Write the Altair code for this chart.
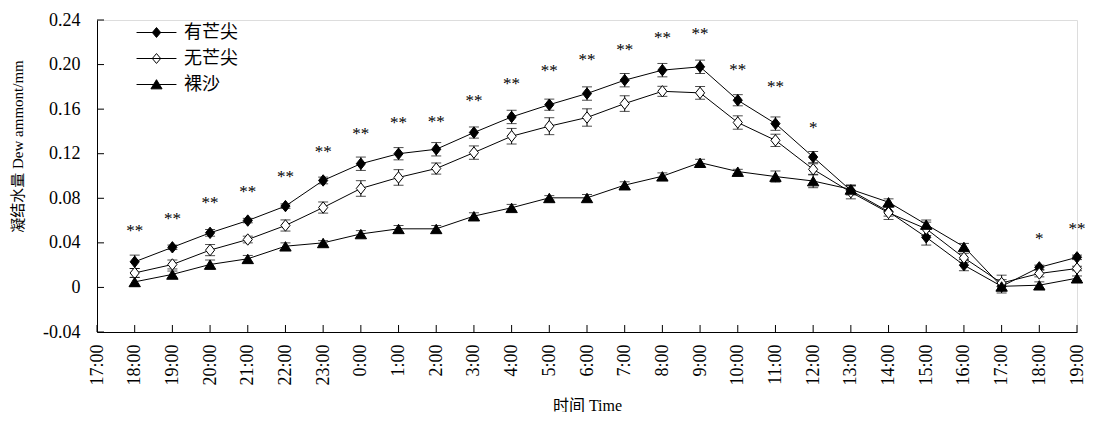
import altair as alt
import pandas as pd

times = ["17:00", "18:00", "19:00", "20:00", "21:00", "22:00", "23:00",
         "0:00", "1:00", "2:00", "3:00", "4:00", "5:00", "6:00", "7:00", "8:00",
         "9:00", "10:00", "11:00", "12:00", "13:00", "14:00", "15:00", "16:00",
         "17:00", "18:00", "19:00"]

series_names = ["有芒尖", "无芒尖", "裸沙"]

# values from 18:00 (day 1) to 19:00 (day 2)
awned = [0.023, 0.036, 0.049, 0.060, 0.073, 0.096, 0.111, 0.120, 0.124, 0.139,
         0.153, 0.164, 0.174, 0.186, 0.195, 0.198, 0.168, 0.147, 0.117, 0.087,
         0.068, 0.045, 0.020, 0.001, 0.018, 0.027]
awned_err = [0.006, 0.002, 0.003, 0.002, 0.002, 0.003, 0.006, 0.0055, 0.006, 0.005,
             0.006, 0.005, 0.006, 0.006, 0.006, 0.006, 0.005, 0.006, 0.005, 0.004,
             0.004, 0.007, 0.005, 0.006, 0.002, 0.002]
awnless = [0.013, 0.0206, 0.0335, 0.043, 0.0556, 0.0717, 0.0888, 0.0987, 0.1067, 0.121,
           0.1357, 0.1447, 0.1525, 0.165, 0.176, 0.1746, 0.148, 0.132, 0.106, 0.0855,
           0.067, 0.0526, 0.0266, 0.004, 0.0125, 0.017]
awnless_err = [0.004, 0.004, 0.005, 0.003, 0.005, 0.005, 0.007, 0.007, 0.005, 0.006,
               0.007, 0.0076, 0.0078, 0.007, 0.0045, 0.0057, 0.006, 0.0055, 0.005, 0.006,
               0.006, 0.006, 0.004, 0.007, 0.003, 0.002]
bare = [0.005, 0.0117, 0.0206, 0.0257, 0.037, 0.040, 0.048, 0.0526, 0.0526, 0.064,
        0.0715, 0.0804, 0.0804, 0.0918, 0.0998, 0.112, 0.104, 0.0995, 0.0955, 0.088,
        0.0765, 0.0565, 0.0365, 0.001, 0.002, 0.0083]
bare_err = [0.004, 0.003, 0.004, 0.003, 0.003, 0.002, 0.003, 0.003, 0.003, 0.003,
            0.003, 0.002, 0.003, 0.003, 0.003, 0.003, 0.002, 0.005, 0.006, 0.004,
            0.003, 0.004, 0.003, 0.003, 0.003, 0.002]

sig_marks = ["**"] * 18 + ["*"] + [""] * 5 + ["*", "**"]
sig_y = [0.054, 0.065, 0.079, 0.089, 0.103, 0.125, 0.141, 0.151, 0.152, 0.171,
         0.1865, 0.198, 0.208, 0.217, 0.227, 0.231, 0.1985, 0.1836, 0.147,
         None, None, None, None, None, 0.0475, 0.056]

y_ticks = [-0.04, 0.0, 0.04, 0.08, 0.12, 0.16, 0.20, 0.24]

# ---- tables ----
rows = []
for name, vals, errs in zip(series_names, [awned, awnless, bare],
                            [awned_err, awnless_err, bare_err]):
    for k, (v, e) in enumerate(zip(vals, errs)):
        rows.append({"series": name, "x": k + 1, "y": v, "lo": v - e, "hi": v + e})
df = pd.DataFrame(rows)

sig_df = pd.DataFrame([{"x": k + 1, "y": yy, "t": s}
                       for k, (s, yy) in enumerate(zip(sig_marks, sig_y)) if s])
xt_df = pd.DataFrame({"x": list(range(len(times)))})
yt_df = pd.DataFrame({"y": y_ticks})

W, H = 980, 312
SERIF = "Liberation Serif, Noto Sans CJK SC"

label_arr = "[" + ",".join("'%s'" % t for t in times) + "]"

xscale = alt.Scale(domain=[0, len(times) - 1], nice=False, zero=False)
yscale = alt.Scale(domain=[-0.04, 0.24], nice=False, zero=False)

x_axis = alt.Axis(values=list(range(len(times))), labelExpr=label_arr + "[datum.value]",
                  labelAngle=270, ticks=False, grid=False, domainColor="black",
                  labelFont=SERIF, labelFontSize=18, labelColor="black", labelPadding=12,
                  title="时间 Time", titleFont=SERIF, titleFontSize=16,
                  titleFontWeight="normal", titleColor="black", titleY=73,
                  titleBaseline="middle", labelOverlap=False, labelBound=False)
y_axis = alt.Axis(values=y_ticks,
                  labelExpr="datum.value == 0 ? '0' : replace(format(datum.value, '.2f'), '\u2212', '-')",
                  ticks=False, grid=False, domainColor="black",
                  labelFont=SERIF, labelFontSize=18, labelColor="black", labelPadding=17,
                  title="凝结水量 Dew ammont/mm", titleFont=SERIF, titleFontSize=15,
                  titleFontWeight="normal", titleColor="black", titleX=-80, titleY=126,
                  titleAngle=270, titleAlign="center", titleBaseline="middle")

X = alt.X("x:Q", scale=xscale, axis=x_axis)
Y = alt.Y("y:Q", scale=yscale, axis=y_axis)

base = alt.Chart(df)

lines = base.mark_line(color="black", strokeWidth=1).encode(
    x=X, y=Y, detail="series:N", order="x:Q")

err_rule = base.mark_rule(color="black", strokeWidth=1).encode(
    x=X, y=alt.Y("lo:Q", scale=yscale, axis=y_axis), y2="hi:Q")

err_caps = base.transform_fold(["lo", "hi"], as_=["k", "v"]).mark_tick(
    color="black", orient="horizontal", size=10, thickness=1).encode(
    x=X, y=alt.Y("v:Q", scale=yscale, axis=y_axis))

diamond = "M0,-1L0.8,0L0,1L-0.8,0Z"
tri = "M0,-0.8L1,0.85L-1,0.85Z"

points = base.mark_point(stroke="black", strokeWidth=1, opacity=1, fillOpacity=1).encode(
    x=X, y=Y,
    shape=alt.Shape("series:N", scale=alt.Scale(domain=series_names,
                                                 range=[diamond, diamond, tri]), legend=None),
    fill=alt.Fill("series:N", scale=alt.Scale(domain=series_names,
                                               range=["black", "white", "black"]), legend=None),
    size=alt.value(130))

# legend symbols: a 40px line with the marker on it (size 900 -> unit = 15px)
leg_diamond = "M-1.33,0L1.33,0M0,-0.33L0.28,0L0,0.33L-0.28,0Z"
leg_tri = "M-1.33,0L1.33,0M0,-0.32L0.37,0.29L-0.37,0.29Z"
leg = alt.Legend(orient="none", legendX=44, legendY=-3, title=None,
                 labelFont="Noto Sans CJK SC", labelFontSize=18, labelColor="black",
                 symbolSize=900, symbolStrokeColor="black", symbolStrokeWidth=1,
                 symbolOpacity=1, labelOffset=12, rowPadding=1)
legend_layer = base.mark_point(strokeWidth=1, opacity=0).encode(
    x=X, y=Y,
    shape=alt.Shape("series:N", scale=alt.Scale(domain=series_names,
                                                 range=[leg_diamond, leg_diamond, leg_tri]),
                    legend=leg),
    fill=alt.Fill("series:N", scale=alt.Scale(domain=series_names,
                                               range=["black", "white", "black"]),
                  legend=leg),
    stroke=alt.Stroke("series:N", scale=alt.Scale(domain=series_names,
                                                   range=["black", "black", "black"]),
                      legend=leg),
    size=alt.value(900))

sig = alt.Chart(sig_df).mark_text(font=SERIF, fontSize=17, color="black",
                                  baseline="middle", dy=4).encode(
    x=X, y=Y, text="t:N")

xt = alt.Chart(xt_df).mark_rule(color="black", strokeWidth=1).encode(
    x=X, y=alt.value(H), y2=alt.value(H - 7))
yt = alt.Chart(yt_df).mark_rule(color="black", strokeWidth=1).encode(
    y=Y, x=alt.value(0), x2=alt.value(7))

chart = alt.layer(xt, yt, lines, err_rule, err_caps, legend_layer, points, sig).resolve_scale(
    shape="independent", fill="independent", stroke="independent"
).properties(
    width=W, height=H,
    autosize=alt.AutoSizeParams(type="none"),
    padding={"left": 89, "top": 12, "right": 9, "bottom": 80},
).configure_view(stroke=None).configure(background="white")

chart.save("out.html", embed_options={"renderer": "svg", "actions": False})
